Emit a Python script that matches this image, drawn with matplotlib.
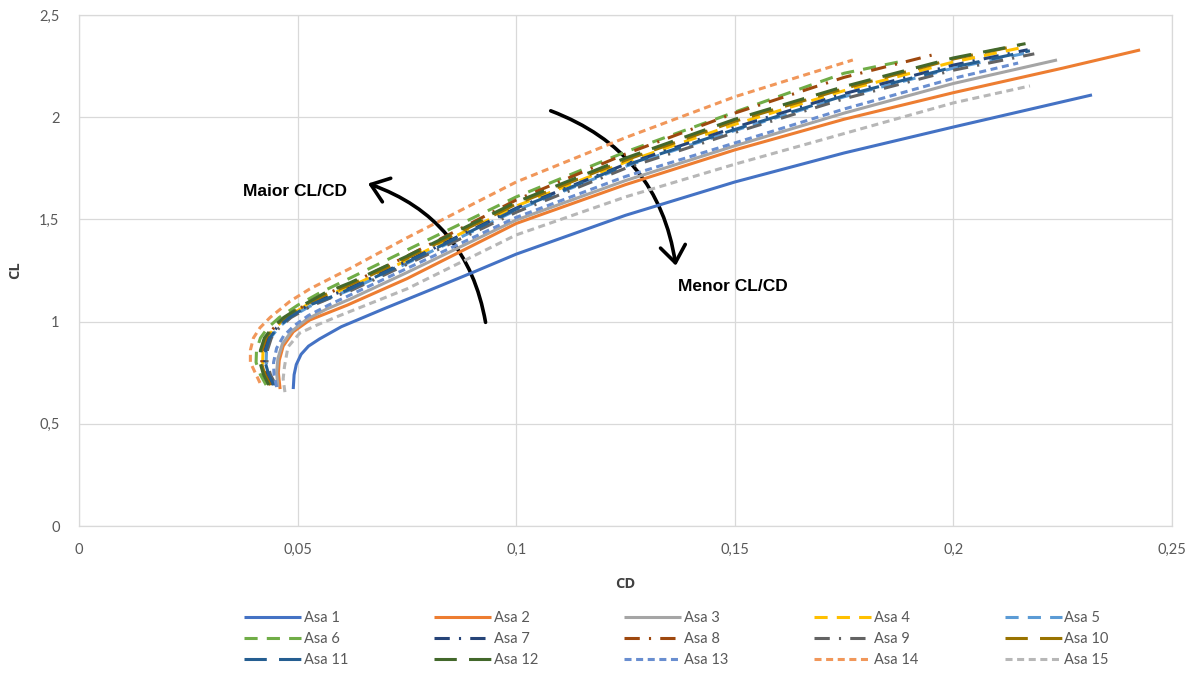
import matplotlib.pyplot as plt
from matplotlib.patches import FancyArrowPatch
from matplotlib.ticker import FuncFormatter

# ---- data (CD, CL) ----
asa1_cd = [0.0490, 0.0492, 0.0497, 0.0508, 0.0525, 0.055, 0.06, 0.07, 0.08, 0.09, 0.1, 0.125, 0.15, 0.175, 0.2, 0.2317]
asa1_cl = [0.67, 0.74, 0.79, 0.84, 0.88, 0.915, 0.975, 1.065, 1.152, 1.24, 1.33, 1.52, 1.683, 1.825, 1.952, 2.109]

asa2_cd = [0.0460, 0.0456, 0.0458, 0.0467, 0.049, 0.0528, 0.0574, 0.0613, 0.075, 0.1, 0.125, 0.15, 0.175, 0.2, 0.225, 0.2427]
asa2_cl = [0.67, 0.75, 0.81, 0.88, 0.95, 1.008, 1.047, 1.08, 1.21, 1.48, 1.67, 1.84, 1.99, 2.12, 2.24, 2.329]

asa3_cd = [0.0455, 0.0452, 0.0455, 0.0465, 0.0485, 0.052, 0.0565, 0.062, 0.075, 0.1, 0.125, 0.15, 0.175, 0.2, 0.2237]
asa3_cl = [0.68, 0.75, 0.82, 0.89, 0.95, 1.01, 1.06, 1.11, 1.24, 1.497, 1.69, 1.86, 2.02, 2.165, 2.28]

asa4_cd = [0.0440, 0.0428, 0.0420, 0.0421, 0.0430, 0.0448, 0.0475, 0.052, 0.057, 0.062, 0.075, 0.1, 0.125, 0.15, 0.175, 0.2, 0.2155]
asa4_cl = [0.69, 0.74, 0.80, 0.86, 0.92, 0.97, 1.02, 1.08, 1.13, 1.17, 1.30, 1.565, 1.78, 1.965, 2.13, 2.27, 2.34]

asa5_cd = [0.0448, 0.0436, 0.0428, 0.0429, 0.0438, 0.0456, 0.0483, 0.0528, 0.0578, 0.062, 0.075, 0.1, 0.125, 0.15, 0.175, 0.2, 0.218]
asa5_cl = [0.69, 0.74, 0.80, 0.86, 0.92, 0.97, 1.02, 1.075, 1.12, 1.155, 1.285, 1.545, 1.76, 1.935, 2.10, 2.24, 2.32]

asa6_cd = [0.0428, 0.0415, 0.0405, 0.0406, 0.0415, 0.0432, 0.0458, 0.050, 0.055, 0.062, 0.075, 0.1, 0.125, 0.15, 0.175, 0.1885]
asa6_cl = [0.69, 0.74, 0.80, 0.86, 0.92, 0.97, 1.02, 1.08, 1.14, 1.213, 1.35, 1.61, 1.83, 2.025, 2.215, 2.275]

asa7_cd = [0.0444, 0.0432, 0.0424, 0.0425, 0.0434, 0.0452, 0.0479, 0.0524, 0.0574, 0.062, 0.075, 0.1, 0.125, 0.15, 0.175, 0.2, 0.217]
asa7_cl = [0.69, 0.74, 0.80, 0.86, 0.92, 0.97, 1.02, 1.08, 1.125, 1.165, 1.295, 1.555, 1.77, 1.95, 2.115, 2.255, 2.33]

asa8_cd = [0.0438, 0.0426, 0.0418, 0.0419, 0.0428, 0.0446, 0.0472, 0.0517, 0.0566, 0.062, 0.075, 0.1, 0.125, 0.15, 0.175, 0.1962]
asa8_cl = [0.69, 0.74, 0.80, 0.86, 0.92, 0.97, 1.02, 1.08, 1.135, 1.185, 1.32, 1.595, 1.82, 2.02, 2.195, 2.31]

asa9_cd = [0.0450, 0.0438, 0.0430, 0.0431, 0.0440, 0.0458, 0.0485, 0.053, 0.058, 0.062, 0.075, 0.1, 0.125, 0.15, 0.175, 0.2, 0.2185]
asa9_cl = [0.69, 0.74, 0.80, 0.86, 0.92, 0.97, 1.02, 1.075, 1.12, 1.15, 1.28, 1.535, 1.75, 1.925, 2.09, 2.23, 2.31]

asa10_cd = [0.0437, 0.0425, 0.0417, 0.0418, 0.0427, 0.0445, 0.0471, 0.0516, 0.0566, 0.062, 0.075, 0.1, 0.125, 0.15, 0.175, 0.2, 0.2152]
asa10_cl = [0.69, 0.74, 0.80, 0.86, 0.92, 0.97, 1.02, 1.08, 1.135, 1.18, 1.31, 1.575, 1.79, 1.98, 2.14, 2.285, 2.353]

asa11_cd = [0.0446, 0.0434, 0.0426, 0.0427, 0.0436, 0.0454, 0.0481, 0.0526, 0.0576, 0.062, 0.075, 0.1, 0.125, 0.15, 0.175, 0.2, 0.2175]
asa11_cl = [0.69, 0.74, 0.80, 0.86, 0.92, 0.97, 1.02, 1.08, 1.12, 1.16, 1.29, 1.55, 1.765, 1.94, 2.105, 2.245, 2.325]

asa12_cd = [0.0434, 0.0422, 0.0414, 0.0415, 0.0424, 0.0442, 0.0468, 0.0512, 0.0562, 0.062, 0.075, 0.1, 0.125, 0.15, 0.175, 0.2, 0.2165]
asa12_cl = [0.69, 0.74, 0.80, 0.86, 0.92, 0.97, 1.02, 1.08, 1.14, 1.19, 1.32, 1.585, 1.80, 1.99, 2.15, 2.29, 2.36]

asa13_cd = [0.0452, 0.0446, 0.0445, 0.0452, 0.0468, 0.0492, 0.0525, 0.057, 0.062, 0.075, 0.1, 0.125, 0.15, 0.175, 0.2, 0.2148]
asa13_cl = [0.68, 0.74, 0.80, 0.87, 0.93, 0.98, 1.03, 1.08, 1.13, 1.26, 1.51, 1.71, 1.874, 2.04, 2.19, 2.265]

asa14_cd = [0.0414, 0.0403, 0.0392, 0.0392, 0.0399, 0.0414, 0.0437, 0.0483, 0.0528, 0.062, 0.075, 0.1, 0.125, 0.15, 0.177]
asa14_cl = [0.70, 0.75, 0.80, 0.86, 0.92, 0.97, 1.02, 1.10, 1.16, 1.26, 1.41, 1.683, 1.90, 2.10, 2.28]

asa15_cd = [0.0471, 0.0467, 0.0470, 0.0478, 0.0505, 0.0544, 0.0597, 0.075, 0.1, 0.125, 0.15, 0.175, 0.2, 0.2175]
asa15_cl = [0.655, 0.72, 0.78, 0.876, 0.944, 0.983, 1.03, 1.16, 1.424, 1.61, 1.77, 1.92, 2.07, 2.153]

labels = ['Asa %d' % i for i in range(1, 16)]
cd_data = [asa1_cd, asa2_cd, asa3_cd, asa4_cd, asa5_cd, asa6_cd, asa7_cd, asa8_cd,
           asa9_cd, asa10_cd, asa11_cd, asa12_cd, asa13_cd, asa14_cd, asa15_cd]
cl_data = [asa1_cl, asa2_cl, asa3_cl, asa4_cl, asa5_cl, asa6_cl, asa7_cl, asa8_cl,
           asa9_cl, asa10_cl, asa11_cl, asa12_cl, asa13_cl, asa14_cl, asa15_cl]

colors = ['#4472C4', '#ED7D31', '#A5A5A5', '#FFC000', '#5B9BD5', '#70AD47',
          '#264478', '#9E480E', '#636363', '#997300', '#255E91', '#43682B',
          '#698ED0', '#F1975A', '#B7B7B7']

# line styles (Excel: solid, dash, long dash-dot, long dash, short dash)
dash = (0, (4.3, 3))
dashdot = (0, (5, 3, 0.7, 3))
longdash = (0, (7.3, 4))
shortdash = (0, (2.3, 1.5))
styles = ['-', '-', '-', dash, dash, dash, dashdot, dashdot, dashdot,
          longdash, longdash, longdash, shortdash, shortdash, shortdash]

plt.rcParams['font.family'] = ['Lato', 'DejaVu Sans']
txt_gray = '#595959'
grid_gray = '#D9D9D9'

fig = plt.figure(figsize=(11.95, 6.73), dpi=100)
ax = fig.add_axes([79 / 1195, 1 - 526 / 673, (1172 - 79) / 1195, (526 - 15) / 673])

handles = []
for cd, cl, c, ls, lab in zip(cd_data, cl_data, colors, styles, labels):
    h, = ax.plot(cd, cl, color=c, linestyle=ls, linewidth=2.2, label=lab,
                 solid_capstyle='butt', dash_capstyle='butt')
    handles.append(h)

ax.set_xlim(0, 0.25)
ax.set_ylim(0, 2.5)
ax.set_xticks([0, 0.05, 0.1, 0.15, 0.2, 0.25])
ax.set_yticks([0, 0.5, 1, 1.5, 2, 2.5])
comma = FuncFormatter(lambda v, p: ('%g' % v).replace('.', ','))
ax.xaxis.set_major_formatter(comma)
ax.yaxis.set_major_formatter(comma)
ax.tick_params(length=0, labelsize=10.5, labelcolor=txt_gray)
ax.tick_params(axis='x', pad=12)
ax.tick_params(axis='y', pad=14)
ax.grid(True, color=grid_gray, linewidth=0.9)
ax.set_axisbelow(True)
for s in ax.spines.values():
    s.set_color(grid_gray)
    s.set_linewidth(0.9)

title_font = dict(family=['Open Sans', 'DejaVu Sans'], fontsize=10.5,
                  fontweight='bold', color='#404040')
ax.set_xlabel('CD', labelpad=15, **title_font)
ax.set_ylabel('CL', labelpad=12, **title_font)

# annotations
ann_font = dict(family=['Liberation Sans Narrow', 'Liberation Sans'], fontsize=12.5,
                fontweight='bold', color='black')
ax.text(0.0375, 1.635, 'Maior CL/CD', ha='left', va='center', **ann_font)
ax.text(0.137, 1.17, 'Menor CL/CD', ha='left', va='center', **ann_font)

arrow_kw = dict(arrowstyle='->,head_length=0.6,head_width=0.45', color='black',
                linewidth=2.6, mutation_scale=20)
ax.add_patch(FancyArrowPatch((0.0931, 0.983), (0.0655, 1.68),
                             connectionstyle='arc3,rad=0.3', **arrow_kw))
ax.add_patch(FancyArrowPatch((0.1073, 2.036), (0.1366, 1.26),
                             connectionstyle='arc3,rad=-0.3', **arrow_kw))

# legend filled row by row (5 columns x 3 rows)
order = [r * 5 + c for c in range(5) for r in range(3)]
fig.legend([handles[i] for i in order], [labels[i] for i in order],
           loc='center', bbox_to_anchor=(0.566, 1 - 639 / 673), ncol=5,
           frameon=False, fontsize=10.5, labelcolor=txt_gray, handlelength=3.9,
           handletextpad=0.2, columnspacing=5.9, labelspacing=0.5)

plt.savefig('out.png', dpi=100)
